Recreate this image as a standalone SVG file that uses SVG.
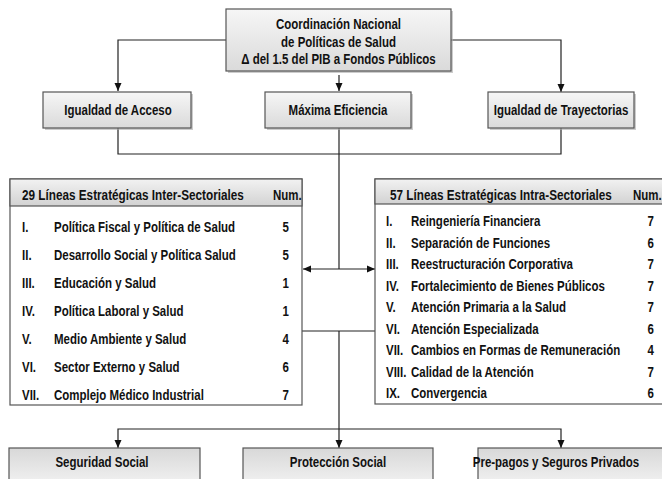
<svg xmlns="http://www.w3.org/2000/svg" width="662" height="479" viewBox="0 0 662 479">
<defs>
<linearGradient id="gBox" x1="0" y1="0" x2="0" y2="1">
<stop offset="0" stop-color="#f6f6f6"/>
<stop offset="1" stop-color="#dadada"/>
</linearGradient>
<linearGradient id="gHead" x1="0" y1="0" x2="0" y2="1">
<stop offset="0" stop-color="#f2f2f2"/>
<stop offset="1" stop-color="#d2d2d2"/>
</linearGradient>
<linearGradient id="gBottom" x1="0" y1="0" x2="0" y2="1">
<stop offset="0" stop-color="#d8d8d8"/>
<stop offset="1" stop-color="#f4f4f4"/>
</linearGradient>
<marker id="arr" markerUnits="userSpaceOnUse" markerWidth="8" markerHeight="8" refX="8" refY="4" orient="auto-start-reverse">
<path d="M0,0.5 L8,4 L0,7.5 z" fill="#111"/>
</marker>
</defs>
<style>
text{font-family:"Liberation Sans",Arial,sans-serif;font-weight:bold;font-size:14px;fill:#111}
.c{text-anchor:middle}
.e{text-anchor:end}
.box{fill:url(#gBox);stroke:#555;stroke-width:1.2}
.bot{fill:url(#gBottom);stroke:#555;stroke-width:1.2}
.sh{fill:#aaa;opacity:0.6}
.tbl{fill:#fff;stroke:#555;stroke-width:1.2}
.hd{fill:url(#gHead);stroke:#555;stroke-width:1.2}
.ln{fill:none;stroke:#222;stroke-width:1.2}
</style>

<g id="connectors">
<path class="ln" d="M226,40 H118 V91" marker-end="url(#arr)"/>
<path class="ln" d="M451,40 H561 V92" marker-end="url(#arr)"/>
<path class="ln" d="M339,75 V91" marker-end="url(#arr)"/>
<path class="ln" d="M118,128 V154 H561 V128"/>
<path class="ln" d="M339,128 V269"/>
<path class="ln" d="M303,269 H375" marker-start="url(#arr)" marker-end="url(#arr)"/>
<path class="ln" d="M302,331 H375"/>
<path class="ln" d="M339,331 V448" marker-end="url(#arr)"/>
<path class="ln" d="M339,429 H118 V448" marker-end="url(#arr)"/>
<path class="ln" d="M339,429 H561 V448" marker-end="url(#arr)"/>
</g>

<g id="coordinacion">
<rect class="sh" x="228" y="11" width="225" height="62"/>
<rect class="box" x="226" y="9" width="225" height="62"/>
<text class="c" transform="translate(338.5,29) scale(0.82,1)">Coordinación Nacional</text>
<text class="c" transform="translate(338.5,47) scale(0.82,1)">de Políticas de Salud</text>
<text class="c" transform="translate(338.5,64) scale(0.82,1)">Δ del 1.5 del PIB a Fondos Públicos</text>
</g>

<g id="igualdad-acceso">
<rect class="sh" x="45" y="94" width="148" height="36"/>
<rect class="box" x="43" y="92" width="148" height="36"/>
<text class="c" transform="translate(118,115) scale(0.82,1)">Igualdad de Acceso</text>
</g>

<g id="maxima-eficiencia">
<rect class="sh" x="267" y="94" width="146" height="36"/>
<rect class="box" x="265" y="92" width="146" height="36"/>
<text class="c" transform="translate(338,115) scale(0.82,1)">Máxima Eficiencia</text>
</g>

<g id="igualdad-trayectorias">
<rect class="sh" x="490" y="94" width="146" height="36"/>
<rect class="box" x="488" y="92" width="146" height="36"/>
<text class="c" transform="translate(561,115) scale(0.82,1)">Igualdad de Trayectorias</text>
</g>

<g id="inter-sectoriales">
<rect class="tbl" x="10" y="179" width="292" height="226"/>
<rect class="hd" x="10" y="179" width="292" height="27"/>
<text transform="translate(22,200) scale(0.84,1)">29 Líneas Estratégicas Inter-Sectoriales</text>
<text transform="translate(273,200) scale(0.82,1)">Num.</text>
<text transform="translate(22,232) scale(0.82,1)">I.</text><text transform="translate(54,232) scale(0.82,1)">Política Fiscal y Política de Salud</text><text class="e" transform="translate(289,232) scale(0.82,1)">5</text>
<text transform="translate(22,260) scale(0.82,1)">II.</text><text transform="translate(54,260) scale(0.82,1)">Desarrollo Social y Política Salud</text><text class="e" transform="translate(289,260) scale(0.82,1)">5</text>
<text transform="translate(22,288) scale(0.82,1)">III.</text><text transform="translate(54,288) scale(0.82,1)">Educación y Salud</text><text class="e" transform="translate(289,288) scale(0.82,1)">1</text>
<text transform="translate(22,316) scale(0.82,1)">IV.</text><text transform="translate(54,316) scale(0.82,1)">Política Laboral y Salud</text><text class="e" transform="translate(289,316) scale(0.82,1)">1</text>
<text transform="translate(22,344) scale(0.82,1)">V.</text><text transform="translate(54,344) scale(0.82,1)">Medio Ambiente y Salud</text><text class="e" transform="translate(289,344) scale(0.82,1)">4</text>
<text transform="translate(22,372) scale(0.82,1)">VI.</text><text transform="translate(54,372) scale(0.82,1)">Sector Externo y Salud</text><text class="e" transform="translate(289,372) scale(0.82,1)">6</text>
<text transform="translate(22,400) scale(0.82,1)">VII.</text><text transform="translate(54,400) scale(0.82,1)">Complejo Médico Industrial</text><text class="e" transform="translate(289,400) scale(0.82,1)">7</text>
</g>

<g id="intra-sectoriales">
<rect class="tbl" x="375" y="179" width="300" height="225"/>
<rect class="hd" x="375" y="179" width="300" height="25"/>
<text transform="translate(390,200) scale(0.84,1)">57 Líneas Estratégicas Intra-Sectoriales</text>
<text transform="translate(633,200) scale(0.82,1)">Num.</text>
<text transform="translate(386,226) scale(0.82,1)">I.</text><text transform="translate(411,226) scale(0.82,1)">Reingeniería Financiera</text><text class="e" transform="translate(654,226) scale(0.82,1)">7</text>
<text transform="translate(386,247.5) scale(0.82,1)">II.</text><text transform="translate(411,247.5) scale(0.82,1)">Separación de Funciones</text><text class="e" transform="translate(654,247.5) scale(0.82,1)">6</text>
<text transform="translate(386,269) scale(0.82,1)">III.</text><text transform="translate(411,269) scale(0.82,1)">Reestructuración Corporativa</text><text class="e" transform="translate(654,269) scale(0.82,1)">7</text>
<text transform="translate(386,290.5) scale(0.82,1)">IV.</text><text transform="translate(411,290.5) scale(0.82,1)">Fortalecimiento de Bienes Públicos</text><text class="e" transform="translate(654,290.5) scale(0.82,1)">7</text>
<text transform="translate(386,312) scale(0.82,1)">V.</text><text transform="translate(411,312) scale(0.82,1)">Atención Primaria a la Salud</text><text class="e" transform="translate(654,312) scale(0.82,1)">7</text>
<text transform="translate(386,333.5) scale(0.82,1)">VI.</text><text transform="translate(411,333.5) scale(0.82,1)">Atención Especializada</text><text class="e" transform="translate(654,333.5) scale(0.82,1)">6</text>
<text transform="translate(386,355) scale(0.82,1)">VII.</text><text transform="translate(411,355) scale(0.82,1)">Cambios en Formas de Remuneración</text><text class="e" transform="translate(654,355) scale(0.82,1)">4</text>
<text transform="translate(386,376.5) scale(0.82,1)">VIII.</text><text transform="translate(411,376.5) scale(0.82,1)">Calidad de la Atención</text><text class="e" transform="translate(654,376.5) scale(0.82,1)">7</text>
<text transform="translate(386,398) scale(0.82,1)">IX.</text><text transform="translate(411,398) scale(0.82,1)">Convergencia</text><text class="e" transform="translate(654,398) scale(0.82,1)">6</text>
</g>

<g id="seguridad-social">
<rect class="bot" x="9" y="448" width="191" height="40"/>
<text class="c" transform="translate(102,467) scale(0.82,1)">Seguridad Social</text>
</g>

<g id="proteccion-social">
<rect class="bot" x="243" y="448" width="190" height="40"/>
<text class="c" transform="translate(338,467) scale(0.82,1)">Protección Social</text>
</g>

<g id="prepagos">
<rect class="bot" x="478" y="448" width="200" height="40"/>
<text class="c" transform="translate(556,467) scale(0.82,1)">Pre-pagos y Seguros Privados</text>
</g>
</svg>
